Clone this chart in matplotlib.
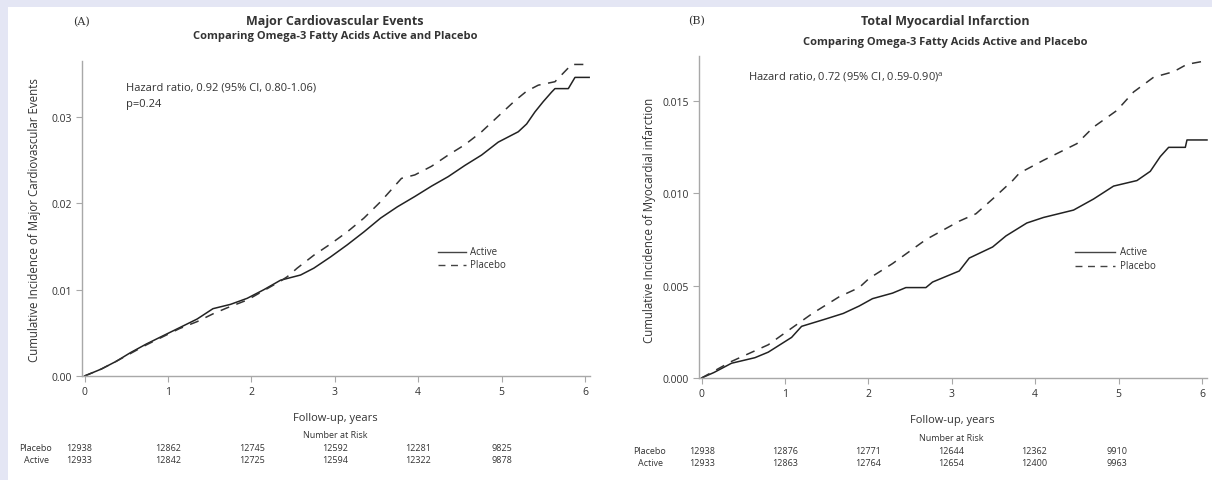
import matplotlib.pyplot as plt
from matplotlib.patches import Rectangle

# ---------------------------------
# Data
# ---------------------------------
years = [0, 1, 2, 3, 4, 5, 6]

# (A) Major cardiovascular events
a_active_t = [0, 0.1, 0.2, 0.38, 0.55, 0.74, 0.95, 1.14, 1.35, 1.54, 1.75, 1.95, 2.15, 2.35,
              2.59, 2.75, 2.95, 3.15, 3.35, 3.55, 3.75, 3.96, 4.16, 4.36, 4.56, 4.76, 4.96,
              5.20, 5.30, 5.40, 5.50, 5.60, 5.64, 5.80, 5.88, 6.05]
a_active_y = [0, 0.0004, 0.0008, 0.0017, 0.0027, 0.0037, 0.0047, 0.0056, 0.0066, 0.0078,
              0.0083, 0.0090, 0.0100, 0.0111, 0.0117, 0.0125, 0.0138, 0.0152, 0.0167, 0.0183,
              0.0196, 0.0208, 0.0220, 0.0231, 0.0244, 0.0256, 0.0271, 0.0283, 0.0292, 0.0306,
              0.0318, 0.0329, 0.0333, 0.0333, 0.0346, 0.0346]
a_placebo_t = [0, 0.2, 0.38, 0.55, 0.74, 0.95, 1.14, 1.35, 1.54, 1.71, 1.95, 2.15, 2.35, 2.43,
               2.55, 2.75, 2.95, 3.15, 3.35, 3.55, 3.80, 3.96, 4.16, 4.36, 4.56, 4.76, 4.96,
               5.16, 5.30, 5.44, 5.64, 5.84, 6.06]
a_placebo_y = [0, 0.0008, 0.0017, 0.0026, 0.0036, 0.0046, 0.0055, 0.0063, 0.0072, 0.0079,
               0.0088, 0.0099, 0.0110, 0.0115, 0.0125, 0.0140, 0.0153, 0.0167, 0.0183, 0.0202,
               0.0229, 0.0233, 0.0243, 0.0256, 0.0268, 0.0283, 0.0301, 0.0319, 0.0330, 0.0337,
               0.0341, 0.0361, 0.0361]
a_risk_placebo = ["12938", "12862", "12745", "12592", "12281", "9825"]
a_risk_active = ["12933", "12842", "12725", "12594", "12322", "9878"]

# (B) Total myocardial infarction
b_active_t = [0, 0.15, 0.36, 0.64, 0.80, 1.08, 1.20, 1.49, 1.70, 1.89, 2.05, 2.29, 2.45, 2.69,
              2.77, 3.09, 3.21, 3.49, 3.65, 3.90, 4.10, 4.46, 4.70, 4.94, 5.22, 5.38, 5.50,
              5.60, 5.80, 5.82, 6.06]
b_active_y = [0, 0.0003, 0.0008, 0.0011, 0.0014, 0.0022, 0.0028, 0.0032, 0.0035, 0.0039,
              0.0043, 0.0046, 0.0049, 0.0049, 0.0052, 0.0058, 0.0065, 0.0071, 0.0077, 0.0084,
              0.0087, 0.0091, 0.0097, 0.0104, 0.0107, 0.0112, 0.0120, 0.0125, 0.0125, 0.0129,
              0.0129]
b_placebo_t = [0, 0.36, 0.80, 1.08, 1.33, 1.65, 1.89, 2.01, 2.29, 2.69, 3.09, 3.29, 3.49, 3.73,
               3.81, 4.10, 4.50, 4.70, 4.98, 5.18, 5.42, 5.66, 5.82, 6.06]
b_placebo_y = [0, 0.0009, 0.0018, 0.0027, 0.0035, 0.0044, 0.0049, 0.0054, 0.0062, 0.0075,
               0.0085, 0.0089, 0.0097, 0.0107, 0.0111, 0.0118, 0.0127, 0.0136, 0.0145, 0.0155,
               0.0163, 0.0166, 0.0170, 0.0172]
b_risk_placebo = ["12938", "12876", "12771", "12644", "12362", "9910"]
b_risk_active = ["12933", "12863", "12764", "12654", "12400", "9963"]

# ---------------------------------
# Figure
# ---------------------------------
W, H = 1212, 481
BG = "#e4e6f4"
TXT = "#333333"
AX = "#a8a8a8"
FONT = "Open Sans"

fig = plt.figure(figsize=(W / 100, H / 100), dpi=100, facecolor=BG)
fig.patches.append(Rectangle((8 / W, 0), 1, 1 - 8 / H, transform=fig.transFigure,
                             facecolor="white", edgecolor="none", zorder=-10))


def px(x, y):
    return x / W, 1 - y / H


def panel(left, bottom, width, height, ymax, yticks, ylabels):
    ax = fig.add_axes([left / W, bottom / H, width / W, height / H])
    ax.set_zorder(2)
    ax.set_facecolor("none")
    ax.set_xlim(-0.03, 6.06)
    ax.set_ylim(0, ymax)
    for s in ["top", "right"]:
        ax.spines[s].set_visible(False)
    for s in ["left", "bottom"]:
        ax.spines[s].set_color(AX)
        ax.spines[s].set_linewidth(1.0)
    ax.set_xticks(years)
    ax.set_yticks(yticks)
    ax.set_yticklabels(ylabels)
    ax.tick_params(colors=AX, labelcolor=TXT, labelsize=7.5, length=4, width=0.8)
    for lab in ax.get_xticklabels() + ax.get_yticklabels():
        lab.set_fontfamily(FONT)
    return ax


def curves(ax, at, ay, pt, py):
    ax.plot(at, ay, color="#222222", lw=1.1, clip_on=False)
    ax.plot(pt, py, color="#333333", lw=1.1, dashes=(6, 5), clip_on=False)


# ----- Panel A -----
axA = panel(82, 104, 508, 315, 0.0365, [0, 0.01, 0.02, 0.03], ["0.00", "0.01", "0.02", "0.03"])
curves(axA, a_active_t, a_active_y, a_placebo_t, a_placebo_y)

fig.text(*px(82, 22), "(A)", family="DejaVu Serif", fontsize=8, color=TXT, ha="center", va="center")
fig.text(*px(335, 21), "Major Cardiovascular Events", family=FONT, fontweight="bold",
         fontsize=9, color=TXT, ha="center", va="center")
fig.text(*px(335, 37), "Comparing Omega-3 Fatty Acids Active and Placebo", family=FONT,
         fontweight="bold", fontsize=8, color=TXT, ha="center", va="center")
fig.text(*px(126, 88), "Hazard ratio, 0.92 (95% CI, 0.80-1.06)", family=FONT, fontsize=8,
         color=TXT, ha="left", va="center")
fig.text(*px(126, 104), "p=0.24", family=FONT, fontsize=8, color=TXT, ha="left", va="center")
fig.text(*px(35, 220), "Cumulative Incidence of Major Cardiovascular Events", family=FONT,
         fontsize=8.3, color=TXT, rotation=90, ha="center", va="center")
fig.text(*px(335, 418), "Follow-up, years", family=FONT, fontsize=8, color=TXT,
         ha="center", va="center")

# legend A
fig.lines.append(plt.Line2D([438 / W, 466 / W], [1 - 253 / H] * 2, color="#444444", lw=1.0,
                            transform=fig.transFigure))
fig.lines.append(plt.Line2D([438 / W, 466 / W], [1 - 266 / H] * 2, color="#444444", lw=1.0,
                            dashes=(5, 4), transform=fig.transFigure))
fig.text(*px(470, 253), "Active", family=FONT, fontsize=7, color=TXT, ha="left", va="center")
fig.text(*px(470, 266), "Placebo", family=FONT, fontsize=7, color=TXT, ha="left", va="center")

# risk table A
fig.text(*px(335, 436), "Number at Risk", family=FONT, fontsize=6.5, color=TXT,
         ha="center", va="center")
fig.text(*px(35, 449), "Placebo", family=FONT, fontsize=6.5, color=TXT, ha="center", va="center")
fig.text(*px(37, 461), "Active", family=FONT, fontsize=6.5, color=TXT, ha="center", va="center")
for i, (p, a) in enumerate(zip(a_risk_placebo, a_risk_active)):
    xx = (85 + i * 83.3 - (6 if i == 0 else 0)) / W
    fig.text(xx, 1 - 449 / H, p, family=FONT, fontsize=6.5, color=TXT, ha="center", va="center")
    fig.text(xx, 1 - 461 / H, a, family=FONT, fontsize=6.5, color=TXT, ha="center", va="center")

# ----- Panel B -----
axB = panel(699, 102, 508, 322, 0.01745, [0, 0.005, 0.010, 0.015],
            ["0.000", "0.005", "0.010", "0.015"])
curves(axB, b_active_t, b_active_y, b_placebo_t, b_placebo_y)

fig.text(*px(697, 21), "(B)", family="DejaVu Serif", fontsize=8, color=TXT, ha="center", va="center")
fig.text(*px(945, 21), "Total Myocardial Infarction", family=FONT, fontweight="bold",
         fontsize=9, color=TXT, ha="center", va="center")
fig.text(*px(945, 42), "Comparing Omega-3 Fatty Acids Active and Placebo", family=FONT,
         fontweight="bold", fontsize=8, color=TXT, ha="center", va="center")
fig.text(*px(748, 77), "Hazard ratio, 0.72 (95% CI, 0.59-0.90)$^{\\mathregular{a}}$", family=FONT,
         fontsize=8, color=TXT, ha="left", va="center")
fig.text(*px(650, 220), "Cumulative Incidence of Myocardial infarction", family=FONT,
         fontsize=8.3, color=TXT, rotation=90, ha="center", va="center")
fig.text(*px(952, 420), "Follow-up, years", family=FONT, fontsize=8, color=TXT,
         ha="center", va="center")

# legend B
fig.lines.append(plt.Line2D([1075 / W, 1115 / W], [1 - 253 / H] * 2, color="#444444", lw=1.0,
                            transform=fig.transFigure))
fig.lines.append(plt.Line2D([1075 / W, 1115 / W], [1 - 267 / H] * 2, color="#444444", lw=1.0,
                            dashes=(5, 4), transform=fig.transFigure))
fig.text(*px(1120, 253), "Active", family=FONT, fontsize=7, color=TXT, ha="left", va="center")
fig.text(*px(1120, 267), "Placebo", family=FONT, fontsize=7, color=TXT, ha="left", va="center")

# risk table B
fig.text(*px(951, 439), "Number at Risk", family=FONT, fontsize=6.5, color=TXT,
         ha="center", va="center")
fig.text(*px(650, 452), "Placebo", family=FONT, fontsize=6.5, color=TXT, ha="center", va="center")
fig.text(*px(650, 464), "Active", family=FONT, fontsize=6.5, color=TXT, ha="center", va="center")
for i, (p, a) in enumerate(zip(b_risk_placebo, b_risk_active)):
    xx = (702 + i * 83) / W
    fig.text(xx, 1 - 452 / H, p, family=FONT, fontsize=6.5, color=TXT, ha="center", va="center")
    fig.text(xx, 1 - 464 / H, a, family=FONT, fontsize=6.5, color=TXT, ha="center", va="center")

fig.savefig("out.png", dpi=100, facecolor=BG)
